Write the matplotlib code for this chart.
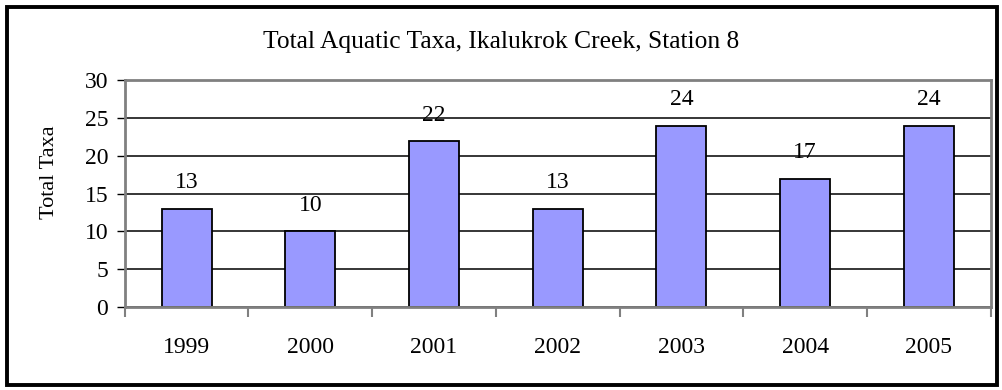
import numpy as np
import matplotlib
matplotlib.use('Agg')
import matplotlib.pyplot as plt
from matplotlib.patches import Rectangle

plt.rcParams['font.family'] = ['Liberation Serif', 'DejaVu Serif']

years = ['1999', '2000', '2001', '2002', '2003', '2004', '2005']
total_taxa = [13, 10, 22, 13, 24, 17, 24]
yticks = [0, 5, 10, 15, 20, 25, 30]

fig = plt.figure(figsize=(10.03, 3.9), dpi=100)
ax = fig.add_axes([0.1244, 0.2136, 0.8634, 0.58])

x = np.arange(len(years))
ax.bar(x, total_taxa, width=0.404, color='#9999FF', edgecolor='black', linewidth=1.3, zorder=3)

# value labels above each bar
for xi, v in zip(x, total_taxa):
    ax.annotate(str(v), (xi, v), xytext=(0, 11), textcoords='offset points',
                ha='center', va='bottom', fontsize=17)

ax.set_xlim(-0.5, len(years) - 0.5)
ax.set_ylim(0, 30)
ax.set_yticks(yticks)
ax.tick_params(axis='y', labelsize=17, length=6, width=1, color='black', pad=6)

# category labels centred, tick marks on the category boundaries
ax.set_xticks(x)
ax.set_xticklabels(years)
ax.tick_params(axis='x', which='major', length=0, labelsize=17, pad=22)
ax.set_xticks(np.arange(-0.5, len(years)), minor=True)
ax.tick_params(axis='x', which='minor', length=7, width=1.5, color='#808080')

ax.yaxis.grid(True, color='black', linewidth=1.1, zorder=0)
ax.set_axisbelow(True)
for s in ax.spines.values():
    s.set_color('#808080')
    s.set_linewidth(2)
    s.set_zorder(4)

ax.set_ylabel('Total Taxa', fontsize=16)
ax.yaxis.set_label_coords(-0.076, 0.595)

fig.text(0.5, 0.892, 'Total Aquatic Taxa, Ikalukrok Creek, Station 8',
         ha='center', va='center', fontsize=18.4)

# black frame around the whole chart
fig.patches.append(Rectangle((0.007, 0.012), 0.987, 0.971, transform=fig.transFigure,
                             fill=False, edgecolor='black', linewidth=2.8))

fig.savefig('out.png', dpi=100)
plt.close(fig)
